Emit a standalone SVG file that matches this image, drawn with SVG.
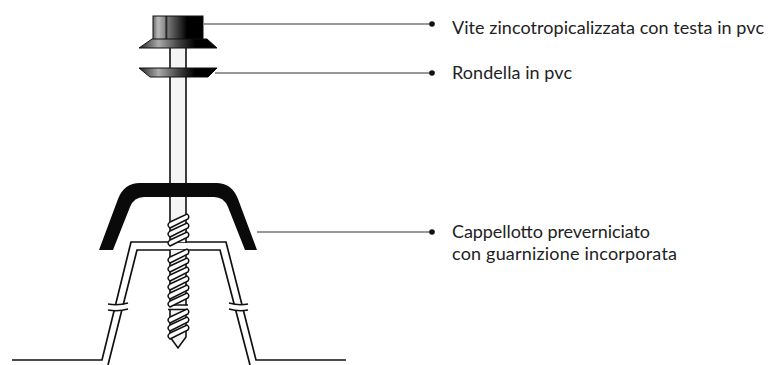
<svg xmlns="http://www.w3.org/2000/svg" xmlns:xlink="http://www.w3.org/1999/xlink" width="770" height="365" viewBox="0 0 770 365">
<style>
.t{font-family:"Lato","Noto Sans",sans-serif;font-size:18px;fill:#222}
.l{fill:none;stroke:#333;stroke-width:1.2}
.k{fill:none;stroke:#111;stroke-width:1.7}
.s{fill:none;stroke:#111;stroke-width:1.6}
.d{fill:#111}
</style>
<defs>
<linearGradient id="g1" x1="0" x2="1" y1="0" y2="0">
<stop offset="0" stop-color="#666"/><stop offset="0.1" stop-color="#bbb"/><stop offset="0.24" stop-color="#888"/><stop offset="0.26" stop-color="#111"/><stop offset="0.3" stop-color="#777"/><stop offset="0.68" stop-color="#000"/><stop offset="1" stop-color="#000"/>
</linearGradient>
<linearGradient id="g2" x1="0" x2="1" y1="0" y2="0">
<stop offset="0" stop-color="#222"/><stop offset="0.25" stop-color="#aaa"/><stop offset="0.5" stop-color="#444"/><stop offset="0.72" stop-color="#000"/><stop offset="1" stop-color="#000"/>
</linearGradient>
<g id="th"><path d="M170 5 L187 -3 Q190 -1 188 2 L170 11 Q166 8 170 5Z" fill="#fff" stroke="#111" stroke-width="1.5"/></g>
</defs>
<g id="connectors">
<path class="l" d="M204 24H430"/>
<path class="l" d="M215 73H430"/>
<path class="l" d="M257 232H430"/>
</g>
<g id="profile">
<path class="k" d="M12 360H102L131 242H226L256 360H346"/>
<path class="k" d="M108 365L137 250H220L250 365"/>
<path fill="#fff" d="M106 304.500H130V310H106ZM227 304.500H251V310H227Z"/>
<path class="s" d="M108 304Q118 306 128 303M108 310Q118 312 128 309M229 303Q239 306 248 304M229 309Q239 312 248 310"/>
</g>
<g id="screw">
<path d="M170 48H186V242H170ZM170 250H186V304H170ZM170 310H186V337L178 348L170 337Z" fill="#f4f4f4"/>
<path class="s" d="M170 48V243M186 48V243M170 250V305M186 250V305M170 309V337L178 348L186 337V309"/>
<path class="s" d="M168 305H188M168 309.500H188"/>
<use xlink:href="#th" href="#th" y="217"/><use xlink:href="#th" href="#th" y="226"/><use xlink:href="#th" href="#th" y="235"/>
<use xlink:href="#th" href="#th" y="252"/><use xlink:href="#th" href="#th" y="261"/><use xlink:href="#th" href="#th" y="270"/><use xlink:href="#th" href="#th" y="279"/><use xlink:href="#th" href="#th" y="288"/><use xlink:href="#th" href="#th" y="296"/>
<use xlink:href="#th" href="#th" y="312"/><use xlink:href="#th" href="#th" y="320"/><use xlink:href="#th" href="#th" y="328"/>
</g>
<g id="vite">
<rect x="153" y="16" width="50" height="24" fill="url(#g1)" stroke="#111"/>
<path d="M152 39H207L217 48H139Z" fill="url(#g2)" stroke="#111"/>
</g>
<g id="rondella">
<path d="M139 68H217L208 77H150Z" fill="url(#g2)" stroke="#111"/>
</g>
<g id="cappellotto">
<path d="M99 250L118 199Q124 183 140 183H216Q232 183 238 199L257 250H245L228 207Q224 197 214 197H144Q134 197 130 207L113 250Z" fill="#0a0a0a"/>
</g>
<g id="label1"><circle class="d" cx="432" cy="24" r="2.800"/><text class="t" x="452" y="34" textLength="312">Vite zincotropicalizzata con testa in pvc</text></g>
<g id="label2"><circle class="d" cx="432" cy="73" r="2.800"/><text class="t" x="452" y="79" textLength="120">Rondella in pvc</text></g>
<g id="label3"><circle class="d" cx="432" cy="232" r="2.800"/><text class="t" x="452" y="238" textLength="198">Cappellotto preverniciato</text><text class="t" x="452" y="260" textLength="225">con guarnizione incorporata</text></g>
</svg>
